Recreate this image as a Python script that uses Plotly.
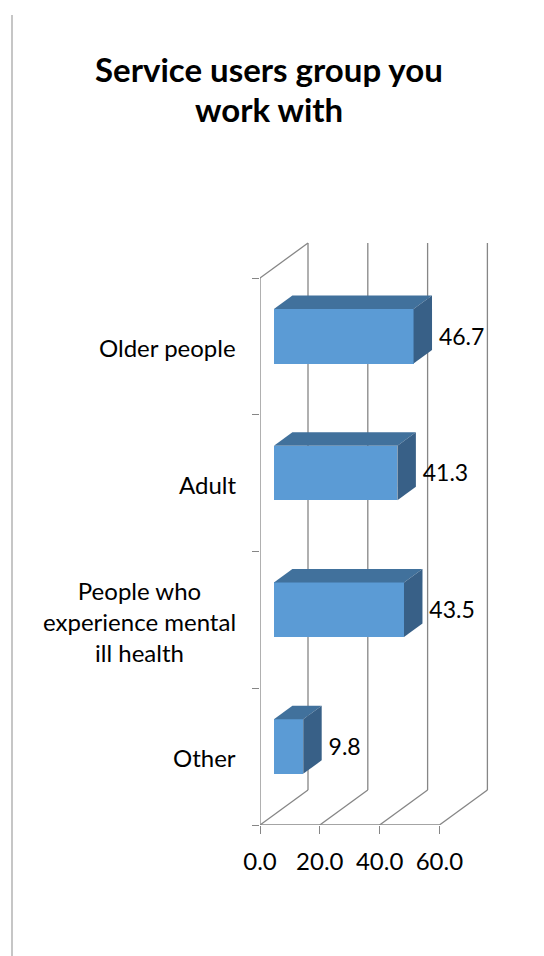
import plotly.graph_objects as go

# ---- data ----
title_lines = ["Service users group you", "work with"]
categories = ["Other", "People who<br>experience mental<br>ill health", "Adult", "Older people"]
values = [9.8, 43.5, 41.3, 46.7]
x_ticks = [0, 20, 40, 60]
x_tick_labels = ["0.0", "20.0", "40.0", "60.0"]

# ---- layout geometry (pixels) ----
OFF = 8                      # page body margin of the browser
W, H = 544 - OFF, 956 - OFF
ML, MR, MT, MB = 260 - OFF, 40, 230 - OFF, 131
PX_X = 2.99      # px per value unit
PX_Y = 136.75    # px per category band
plot_w = W - ML - MR
plot_h = H - MT - MB
x_max = plot_w / PX_X
y_max = plot_h / PX_Y

# 3D depth offset in data units
DX = 48 / PX_X
DY = 35 / PX_Y
T0 = 0.29    # bar front position in depth
BD = 0.385   # bar depth fraction
BH = 0.40    # bar height (band units)

FONT = "Lato"
GRID = "#868686"
FRONT = "#5B9BD5"
TOP = "#41719C"
SIDE = "#386087"

n = len(categories)
centers = [i + 0.5 for i in range(n)]

fig = go.Figure()

# front faces of the bars
fig.add_trace(go.Bar(
    orientation="h",
    x=values,
    y=[c + T0 * DY for c in centers],
    base=[T0 * DX] * n,
    width=BH,
    marker=dict(color=FRONT, line=dict(width=0)),
    hoverinfo="skip",
    showlegend=False,
))

# top and side faces
for c, v in zip(centers, values):
    x0 = T0 * DX
    x1 = v + T0 * DX
    y0 = c - BH / 2 + T0 * DY
    y1 = c + BH / 2 + T0 * DY
    bx, by = BD * DX, BD * DY
    fig.add_trace(go.Scatter(
        x=[x0, x1, x1 + bx, x0 + bx, x0],
        y=[y1, y1, y1 + by, y1 + by, y1],
        fill="toself", fillcolor=TOP, mode="lines",
        line=dict(width=0, color=TOP), hoverinfo="skip", showlegend=False,
    ))
    fig.add_trace(go.Scatter(
        x=[x1, x1, x1 + bx, x1 + bx, x1],
        y=[y0, y1, y1 + by, y0 + by, y0],
        fill="toself", fillcolor=SIDE, mode="lines",
        line=dict(width=0, color=SIDE), hoverinfo="skip", showlegend=False,
    ))

# value labels
fig.add_trace(go.Scatter(
    x=[v + (T0 + BD) * DX + 2.3 for v in values],
    y=[c + T0 * DY - 0.02 for c in centers],
    mode="text",
    text=[f"{v:.1f}" for v in values],
    textposition="middle right",
    textfont=dict(family=FONT, size=23, color="#000000"),
    cliponaxis=False,
    hoverinfo="skip",
    showlegend=False,
))

shapes = []
line_style = dict(color=GRID, width=1.3)
# back wall gridlines and floor lines
for xv in x_ticks:
    shapes.append(dict(type="line", xref="x", yref="y", x0=xv + DX, y0=DY, x1=xv + DX, y1=n + DY,
                       line=line_style, layer="below"))
    shapes.append(dict(type="line", xref="x", yref="y", x0=xv, y0=0, x1=xv + DX, y1=DY,
                       line=line_style, layer="below"))
# left wall top edge
shapes.append(dict(type="line", xref="x", yref="y", x0=0, y0=n, x1=DX, y1=n + DY,
                   line=line_style, layer="below"))
# front axis lines
shapes.append(dict(type="line", xref="x", yref="y", x0=0, y0=0, x1=0, y1=n,
                   line=line_style, layer="below"))
shapes.append(dict(type="line", xref="x", yref="y", x0=0, y0=0, x1=x_ticks[-1], y1=0,
                   line=line_style, layer="below"))
# page border line at left
bx_px = 12 - OFF
shapes.append(dict(type="line", xref="paper", yref="paper",
                   x0=(bx_px - ML) / plot_w, x1=(bx_px - ML) / plot_w,
                   y0=(H - MB - (15 - OFF)) / plot_h, y1=-(MB + 5) / plot_h,
                   line=dict(color="#c6c6c6", width=2)))

annotations = []
# category labels
for c, lab in zip(centers, categories):
    annotations.append(dict(
        xref="paper", yref="y", x=0, y=c - 0.01, xanchor="right", yanchor="middle",
        xshift=-22, text=lab, showarrow=False, align="center",
        font=dict(family=FONT, size=24, color="#000000"),
    ))
# title lines
title_y_px = [69 - OFF, 109 - OFF]
for t, ypx in zip(title_lines, title_y_px):
    annotations.append(dict(
        xref="paper", yref="paper",
        x=(269 - OFF - ML) / plot_w, y=(H - MB - ypx) / plot_h,
        xanchor="center", yanchor="middle",
        text=f"<b>{t}</b>", showarrow=False,
        font=dict(family=FONT, size=33, color="#000000"),
    ))

fig.update_layout(
    width=W, height=H,
    margin=dict(l=ML, r=MR, t=MT, b=MB, autoexpand=False),
    paper_bgcolor="white", plot_bgcolor="white",
    shapes=shapes, annotations=annotations,
    showlegend=False,
    bargap=0,
    xaxis=dict(
        range=[0, x_max], tickmode="array", tickvals=x_ticks, ticktext=x_tick_labels,
        ticks="outside", ticklen=8, tickcolor=GRID, tickwidth=1.3,
        showgrid=False, zeroline=False, showline=False,
        tickfont=dict(family=FONT, size=24, color="#000000"),
        ticklabelstandoff=7, fixedrange=True,
    ),
    yaxis=dict(
        range=[0, y_max], tickmode="array", tickvals=list(range(n + 1)),
        ticktext=[""] * (n + 1),
        ticks="outside", ticklen=7, tickcolor=GRID, tickwidth=1.3,
        showgrid=False, zeroline=False, showline=False, fixedrange=True,
    ),
)

fig.write_html("out.html")
